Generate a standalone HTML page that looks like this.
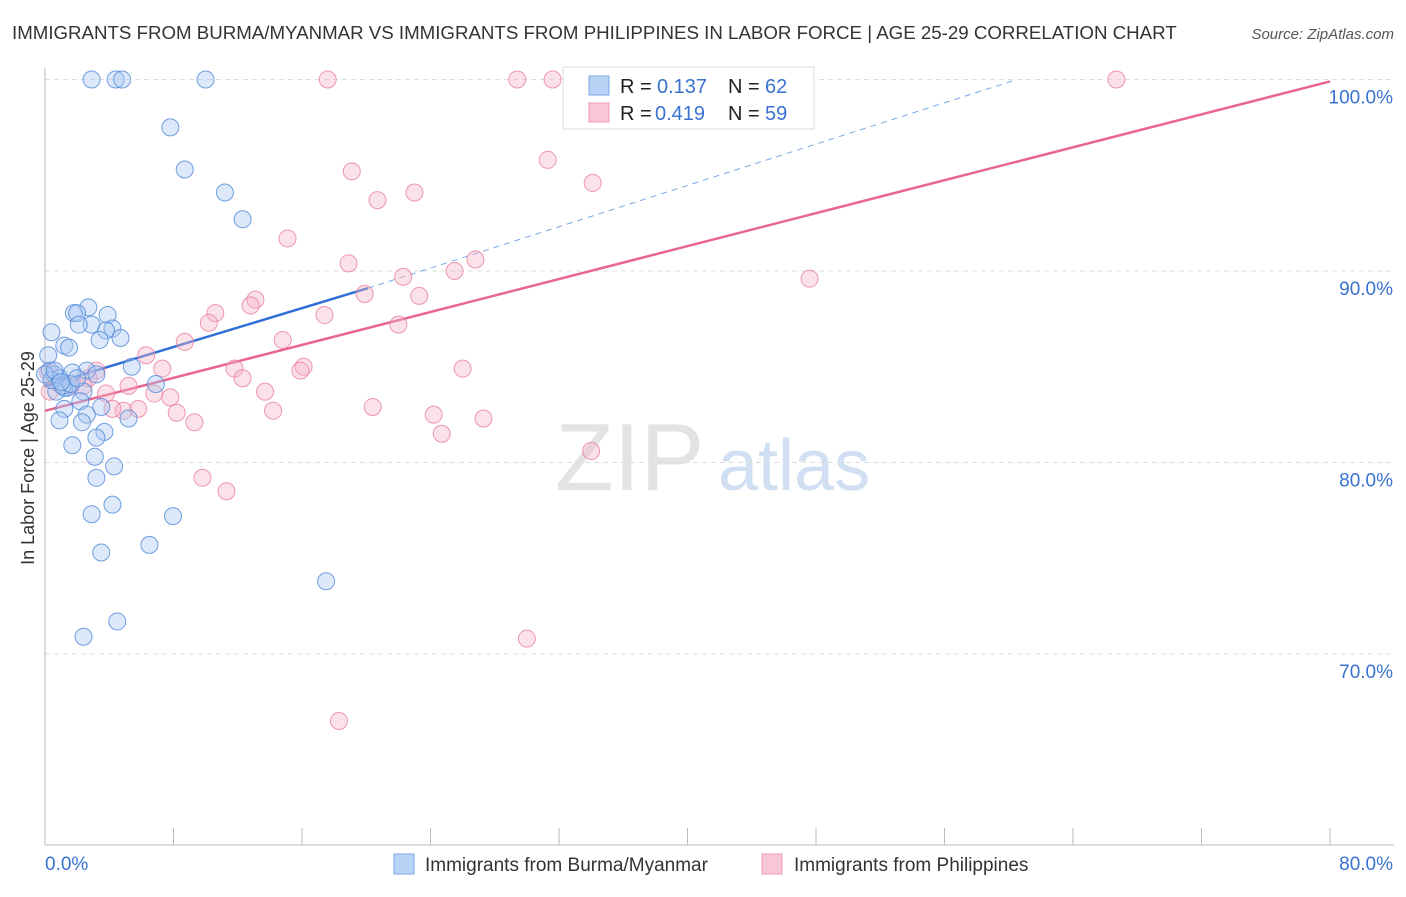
<!DOCTYPE html>
<html><head><meta charset="utf-8"><style>
body{margin:0;background:#fff;font-family:"Liberation Sans",sans-serif}
svg text{font-family:"Liberation Sans",sans-serif}
</style></head><body>
<svg id="chart" width="1406" height="892" xmlns="http://www.w3.org/2000/svg">
<text x="12" y="39" font-size="18.7" fill="#333">IMMIGRANTS FROM BURMA/MYANMAR VS IMMIGRANTS FROM PHILIPPINES IN LABOR FORCE | AGE 25-29 CORRELATION CHART</text>
<text x="1394" y="39" font-size="15" font-style="italic" fill="#555" text-anchor="end">Source: ZipAtlas.com</text>
<text x="555" y="490" font-size="96" font-family="Liberation Serif" fill="#ddd" opacity="0.8">ZIP</text>
<text x="718" y="490" font-size="72" fill="#c5d8ee" opacity="0.8">atlas</text>
<g id="grid"></g>
<g id="lines"></g>
<g id="pts"></g>
<text transform="translate(34,458) rotate(-90)" font-size="18" fill="#333" text-anchor="middle">In Labor Force | Age 25-29</text>
<g>
<rect x="563" y="67" width="251" height="62" fill="#fff" stroke="#ddd"/>
<rect x="589" y="76" width="20" height="19" fill="#b8d3f6" stroke="#7aa8e6"/>
<rect x="589" y="103" width="20" height="19" fill="#f9c6d5" stroke="#ee9ab4"/>
<text x="620" y="93" font-size="20" fill="#222">R =</text>
<text x="657" y="93" font-size="20" fill="#3a72d0">0.137</text>
<text x="728" y="93" font-size="20" fill="#222">N =</text>
<text x="765" y="93" font-size="20" fill="#3a72d0">62</text>
<text x="620" y="120" font-size="20" fill="#222">R =</text>
<text x="655" y="120" font-size="20" fill="#3a72d0">0.419</text>
<text x="728" y="120" font-size="20" fill="#222">N =</text>
<text x="765" y="120" font-size="20" fill="#3a72d0">59</text>
</g>
<g>
<rect x="394" y="854" width="20" height="20" fill="#b8d3f6" stroke="#7aa8e6"/>
<text x="425" y="871" font-size="19" fill="#333">Immigrants from Burma/Myanmar</text>
<rect x="762" y="854" width="20" height="20" fill="#f9c6d5" stroke="#ee9ab4"/>
<text x="794" y="871" font-size="19" fill="#333">Immigrants from Philippines</text>
</g>
</svg>
<script>
const xTicks=[0,80];
const yTicks=[70,80,90,100];
const blueX=[2.9,4.4,4.8,10.0,7.8,8.7,11.2,12.3,2.7,1.8,2.0,3.9,2.9,2.1,4.2,3.8,0.4,4.7,3.4,1.2,1.5,0.2,5.4,0.3,2.6,1.7,3.2,0.6,0.9,6.9,1.4,1.2,0.7,2.4,2.2,1.2,3.5,2.6,0.9,5.2,2.3,3.7,3.2,1.7,3.1,4.3,3.2,4.2,2.9,7.97,6.5,3.5,17.5,4.5,2.4,0.4,0.0,1.1,1.6,0.6,1.0,2.0];
const blueY=[100.0,100.0,100.0,100.0,97.5,95.3,94.1,92.7,88.1,87.8,87.8,87.7,87.2,87.2,87.0,86.9,86.8,86.5,86.4,86.1,86.0,85.6,85.0,84.8,84.8,84.7,84.6,84.6,84.4,84.1,83.9,83.9,83.7,83.7,83.2,82.8,82.9,82.5,82.2,82.3,82.1,81.6,81.3,80.9,80.3,79.8,79.2,77.8,77.3,77.2,75.7,75.3,73.8,71.7,70.9,84.3,84.6,84.0,84.1,84.8,84.2,84.4];
const pinkX=[17.6,29.4,31.6,66.7,31.3,34.1,19.1,20.7,23.0,15.1,18.9,26.8,25.5,22.3,47.6,23.3,19.9,13.1,12.8,10.6,10.2,17.4,22.0,8.7,14.8,6.3,7.3,16.1,15.9,11.8,26.0,3.2,2.7,12.3,5.2,2.4,13.7,3.8,6.8,7.8,4.9,4.2,5.8,8.2,20.4,24.2,27.3,14.2,9.3,24.7,34.0,9.8,11.3,30.0,18.3,0.3,0.9,1.6,0.2];
const pinkY=[100.0,100.0,100.0,100.0,95.8,94.6,95.2,93.7,94.1,91.7,90.4,90.6,90.0,89.7,89.6,88.7,88.8,88.5,88.2,87.8,87.3,87.7,87.2,86.3,86.4,85.6,84.9,85.0,84.8,84.9,84.9,84.8,84.4,84.4,84.0,84.0,83.7,83.6,83.6,83.4,82.7,82.8,82.8,82.6,82.9,82.5,82.3,82.7,82.1,81.5,80.6,79.2,78.5,70.8,66.5,83.7,84.1,84.0,84.7];
const blueLine=[0,84.0,20.1,89.1];
const blueDash=[20.1,89.1,60.5,100];
const pinkLine=[0,82.7,80,99.9];
const X0=45,X1=1330,Y0=79.5,PER=19.15;
const sx=v=>X0+(v/80)*(X1-X0);
const sy=v=>Y0+(100-v)*PER;
const NS="http://www.w3.org/2000/svg";
function mk(tag,attrs,parent){const e=document.createElementNS(NS,tag);for(const k in attrs)e.setAttribute(k,attrs[k]);parent.appendChild(e);return e;}
const grid=document.getElementById('grid'),lines=document.getElementById('lines'),pts=document.getElementById('pts');
for(const t of yTicks){
  const g=mk('line',{x1:45,x2:1394,y1:sy(t),y2:sy(t),stroke:'#ddd','stroke-dasharray':'5,4'},grid);
  
  
  const tx=mk('text',{x:1393,y:sy(t)+24,'font-size':19,fill:'#3a72d0','text-anchor':'end'},grid);
  tx.textContent=t.toFixed(1)+'%';
  
  
}
const ax=mk('line',{x1:45,x2:45,y1:68,y2:845,stroke:'#bbb'},grid);


const bx=mk('line',{x1:45,x2:1394,y1:845,y2:845,stroke:'#bbb'},grid);


for(let i=1;i<=10;i++){const v=i*8;const tk=mk('line',{x1:sx(v),x2:sx(v),y1:828,y2:845,stroke:'#bbb'},grid);

}
xTicks.forEach((t,i)=>{const tx=mk('text',{x:i?1393:45,y:870,'font-size':19,fill:'#3a72d0','text-anchor':i?'end':'start'},grid);tx.textContent=t.toFixed(1)+'%';

});
function drawPts(xs,ys,fill,stroke,name){xs.forEach((x,i)=>{const c=mk('circle',{cx:sx(x),cy:sy(ys[i]),r:8.5,fill:fill,stroke:stroke,'stroke-width':1,'fill-opacity':0.4,'stroke-opacity':0.8},pts);

});}
drawPts(pinkX,pinkY,'#f5b3c6','#e8809f','point-philippines');
drawPts(blueX,blueY,'#a9c8f2','#4f88d8','point-burma');
const l1=mk('line',{x1:sx(pinkLine[0]),y1:sy(pinkLine[1]),x2:sx(pinkLine[2]),y2:sy(pinkLine[3]),stroke:'#e8668f','stroke-width':2.5},lines);


const l2=mk('line',{x1:sx(blueDash[0]),y1:sy(blueDash[1]),x2:sx(blueDash[2]),y2:sy(blueDash[3]),stroke:'#7aa8e6','stroke-width':1,'stroke-dasharray':'6,5'},lines);


const l3=mk('line',{x1:sx(blueLine[0]),y1:sy(blueLine[1]),x2:sx(blueLine[2]),y2:sy(blueLine[3]),stroke:'#2f6fd6','stroke-width':2.5},lines);


</script>
</body></html>
